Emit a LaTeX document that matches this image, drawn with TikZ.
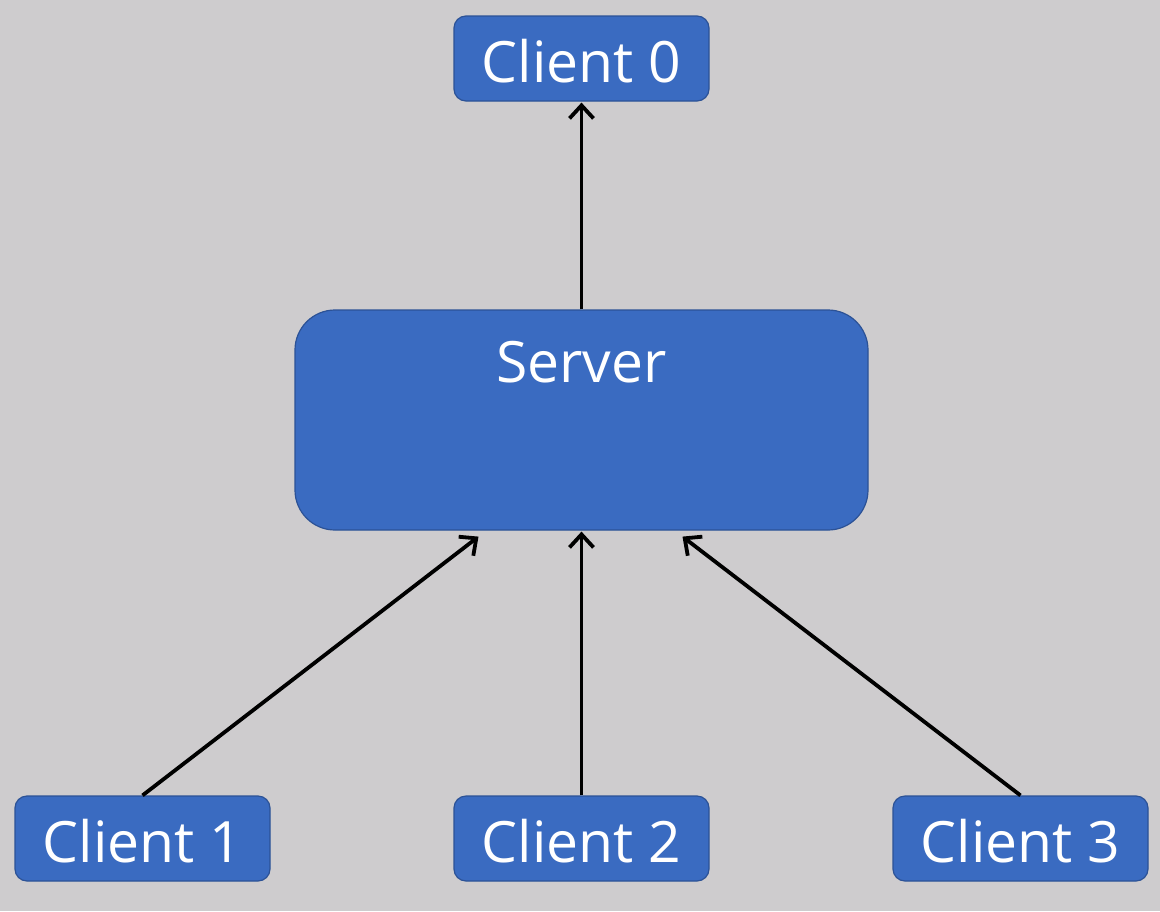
\documentclass[tikz,border=0pt]{standalone}
\usepackage{fontspec}
\setmainfont{Open Sans}
\usetikzlibrary{arrows.meta}
\definecolor{bg}{RGB}{206,204,206}
\definecolor{boxfill}{RGB}{58,107,193}
\definecolor{boxline}{RGB}{44,82,150}
\tikzset{
  client/.style={draw=boxline, line width=1.2pt, fill=boxfill, rounded corners=12pt,
    minimum width=255pt, minimum height=85pt, inner sep=0pt, text=white,
    text height=48pt, text depth=0pt,
    font=\fontsize{57}{64}\selectfont},
  serverbox/.style={draw=boxline, line width=1.2pt, fill=boxfill, rounded corners=40pt,
    minimum width=573pt, minimum height=220pt, inner sep=0pt},
  lbl/.style={text=white, inner sep=0pt, font=\fontsize{57}{64}\selectfont},
  arr/.style={line width=3.8pt, black, -{Straight Barb[length=13pt,width=24pt,line width=3.8pt]}}
}
\begin{document}
\begin{tikzpicture}[x=1pt,y=-1pt]
\fill[bg] (0,0) rectangle (1160,911);
\useasboundingbox (0,0) rectangle (1160,911);
\node[client] (c0) at (581.5,58.5) {Client 0};
\node[serverbox] (server) at (581.5,420) {};
\node[lbl] (stext) at (581.5,362) {Server};
\node[client] (c1) at (142.5,838.5) {Client 1};
\node[client] (c2) at (581.5,838.5) {Client 2};
\node[client] (c3) at (1020.5,838.5) {Client 3};
\draw[arr] (server.north) -- ([yshift=-1pt]c0.south);
\draw[arr] (c1.north) -- ([xshift=-103pt,yshift=-6pt]server.south);
\draw[arr] (c2.north) -- ([yshift=-1pt]server.south);
\draw[arr] (c3.north) -- ([xshift=101pt,yshift=-6pt]server.south);
\end{tikzpicture}
\end{document}
